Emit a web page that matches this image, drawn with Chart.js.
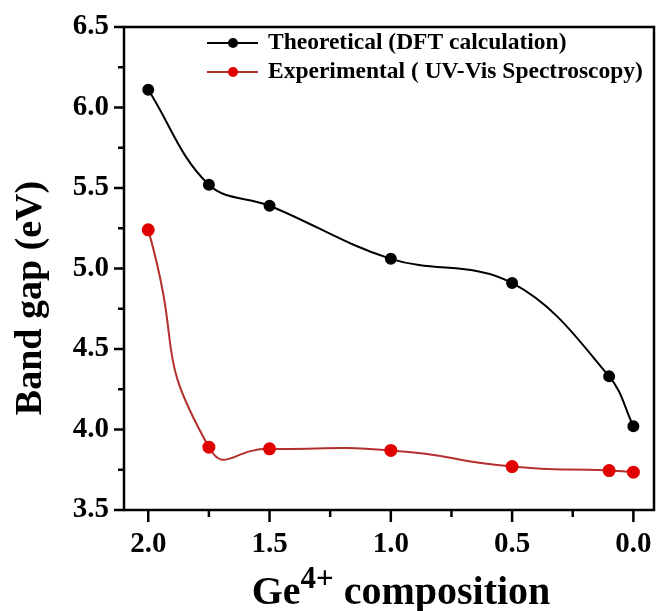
<!DOCTYPE html>
<html>
<head>
<meta charset="utf-8">
<script src="https://cdn.jsdelivr.net/npm/chart.js@4.4.1/dist/chart.umd.min.js"></script>
<style>
  html, body { margin: 0; padding: 0; background: #fff; }
  #wrap { width: 657px; height: 611px; }
</style>
</head>
<body>
<div id="wrap"><canvas id="c" width="657" height="611"></canvas></div>
<script>
// values
const composition = [2.0, 1.75, 1.5, 1.0, 0.5, 0.1, 0.0];
const theoretical = [6.11, 5.52, 5.39, 5.06, 4.91, 4.33, 4.02];
const experimental = [5.24, 3.89, 3.88, 3.87, 3.77, 3.745, 3.735];
const seriesNames = ['Theoretical (DFT calculation)', 'Experimental ( UV-Vis Spectroscopy)'];

const xMajor = [2.0, 1.5, 1.0, 0.5, 0.0];
const xMinor = [1.75, 1.25, 0.75, 0.25];
const yMajor = [3.5, 4.0, 4.5, 5.0, 5.5, 6.0, 6.5];
const yMinor = [3.75, 4.25, 4.75, 5.25, 5.75, 6.25];

const SERIF = "'Liberation Serif', 'Times New Roman', serif";

const toPoints = vals => vals.map((v, i) => ({ x: composition[i], y: v }));

// box, ticks, axis titles and the inset legend
const framePlugin = {
  id: 'frame',
  afterDraw(chart) {
    const { ctx, chartArea: a, scales: { x, y } } = chart;
    ctx.save();
    ctx.strokeStyle = '#000';
    ctx.lineWidth = 2.5;
    ctx.strokeRect(a.left, a.top, a.right - a.left, a.bottom - a.top);

    ctx.beginPath();
    xMajor.forEach(v => { const p = x.getPixelForValue(v); ctx.moveTo(p, a.bottom); ctx.lineTo(p, a.bottom + 12); });
    xMinor.forEach(v => { const p = x.getPixelForValue(v); ctx.moveTo(p, a.bottom); ctx.lineTo(p, a.bottom + 7); });
    yMajor.forEach(v => { const p = y.getPixelForValue(v); ctx.moveTo(a.left, p); ctx.lineTo(a.left - 10, p); });
    yMinor.forEach(v => { const p = y.getPixelForValue(v); ctx.moveTo(a.left, p); ctx.lineTo(a.left - 6, p); });
    ctx.stroke();

    // y title
    ctx.fillStyle = '#000';
    ctx.save();
    ctx.translate(31, 298);
    ctx.rotate(-Math.PI / 2);
    ctx.font = 'bold 38px ' + SERIF;
    ctx.textAlign = 'center';
    ctx.textBaseline = 'middle';
    ctx.fillText('Band gap (eV)', 0, 0);
    ctx.restore();

    // x title with superscript
    const big = 'bold 40px ' + SERIF, sup = 'bold 31px ' + SERIF;
    ctx.textAlign = 'left';
    ctx.textBaseline = 'alphabetic';
    ctx.font = big;
    const wGe = ctx.measureText('Ge').width;
    const wRest = ctx.measureText(' composition').width;
    ctx.font = sup;
    const wSup = ctx.measureText('4+').width;
    let tx = 401 - (wGe + wSup + wRest) / 2;
    const base = 604;
    ctx.font = big; ctx.fillText('Ge', tx, base); tx += wGe;
    ctx.font = sup; ctx.fillText('4+', tx, base - 16); tx += wSup;
    ctx.font = big; ctx.fillText(' composition', tx, base);

    // legend
    ctx.font = 'bold 23.5px ' + SERIF;
    ctx.textBaseline = 'middle';
    chart.data.datasets.forEach((ds, i) => {
      const ly = a.top + 16 + i * 29;
      ctx.strokeStyle = ds.borderColor;
      ctx.lineWidth = 2;
      ctx.beginPath(); ctx.moveTo(a.left + 83, ly); ctx.lineTo(a.left + 134, ly); ctx.stroke();
      ctx.fillStyle = ds.pointBackgroundColor;
      ctx.beginPath(); ctx.arc(a.left + 109, ly, 5, 0, Math.PI * 2); ctx.fill();
      ctx.fillStyle = '#000';
      ctx.fillText(ds.label, a.left + 144, ly);
    });
    ctx.restore();
  }
};

const noEdgePadding = s => { s.paddingLeft = 0; s.paddingRight = 0; s.paddingTop = 0; s.paddingBottom = 0; };

new Chart(document.getElementById('c'), {
  type: 'line',
  data: {
    datasets: [
      {
        label: seriesNames[0],
        data: toPoints(theoretical),
        borderColor: '#000',
        backgroundColor: '#000',
        pointBackgroundColor: '#000',
        pointBorderColor: '#000',
        borderWidth: 2,
        pointRadius: 5,
        tension: 0.38
      },
      {
        label: seriesNames[1],
        data: toPoints(experimental),
        borderColor: '#b3302c',
        backgroundColor: '#e00000',
        pointBackgroundColor: '#e00000',
        pointBorderColor: '#e00000',
        borderWidth: 2,
        pointRadius: 5.5,
        tension: 0.6
      }
    ]
  },
  options: {
    responsive: false,
    animation: false,
    devicePixelRatio: 1,
    layout: { autoPadding: false, padding: { top: 27, right: 3, left: 0, bottom: 0 } },
    plugins: { legend: { display: false }, tooltip: { enabled: false } },
    scales: {
      x: {
        type: 'linear',
        reverse: true,
        min: -0.085,
        max: 2.1,
        grid: { display: false, drawTicks: false },
        border: { display: false },
        afterBuildTicks: s => { s.ticks = xMajor.map(v => ({ value: v })); },
        afterFit: s => { s.height = 101; noEdgePadding(s); },
        ticks: {
          padding: 17,
          color: '#000',
          font: { family: SERIF, size: 29, weight: 'bold' },
          callback: v => Number(v).toFixed(1)
        }
      },
      y: {
        type: 'linear',
        min: 3.5,
        max: 6.5,
        grid: { display: false, drawTicks: false },
        border: { display: false },
        afterBuildTicks: s => { s.ticks = yMajor.map(v => ({ value: v })); },
        afterFit: s => { s.width = 124; noEdgePadding(s); },
        ticks: {
          padding: 15,
          color: '#000',
          font: { family: SERIF, size: 29, weight: 'bold' },
          callback: v => Number(v).toFixed(1)
        }
      }
    }
  },
  plugins: [framePlugin]
});
</script>
</body>
</html>
